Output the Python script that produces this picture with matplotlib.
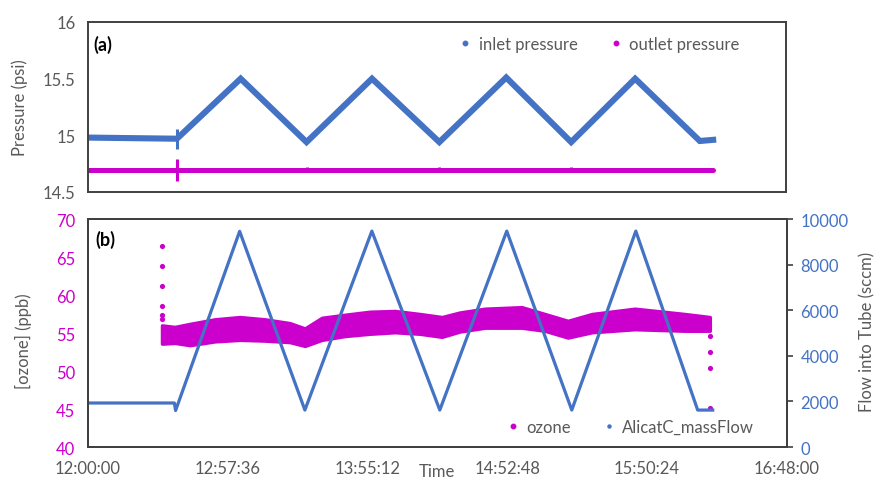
import matplotlib
matplotlib.use('Agg')
import matplotlib.pyplot as plt
from matplotlib.lines import Line2D
from matplotlib.ticker import FuncFormatter
import numpy as np

plt.rcParams['font.family'] = ['Lato', 'DejaVu Sans']

BLUE = '#4472C4'
MAGENTA = '#CC00CC'
GREY = '#595959'
EDGE = '#404040'
FS = 12

# times are minutes after 12:00:00
# (a) pressure
inlet_min = [0, 36.7, 63.0, 90.2, 117.2, 145.0, 172.6, 199.4, 225.8, 252.5, 258.0]
inlet_psi = [14.98, 14.97, 15.50, 14.94, 15.50, 14.94, 15.51, 14.94, 15.50, 14.95, 14.96]
outlet_min = [0, 258.0]
outlet_psi = [14.69, 14.69]
spike_min = [36.7]
inlet_spike_lo = [14.88]
inlet_spike_hi = [15.06]
outlet_spike_min = [36.7, 90.2, 145.0, 199.4]
outlet_spike_lo = [14.60, 14.68, 14.68, 14.68]
outlet_spike_hi = [14.79, 14.72, 14.72, 14.72]

# (b) flow
flow_min = [0, 35.6, 36.1, 62.5, 89.4, 117.0, 145.0, 172.6, 199.4, 225.8, 251.3, 257.5]
flow_sccm = [1930, 1930, 1600, 9460, 1620, 9470, 1620, 9470, 1620, 9470, 1620, 1620]

# (b) ozone band (lower / upper edge of the scatter)
ozone_min = [30.5, 35.8, 42.0, 52.3, 62.6, 72.9, 83.2, 89.4, 96.4, 105.9, 116.2, 126.5,
             136.8, 145.9, 153.3, 163.6, 178.8, 188.3, 197.8, 207.7, 225.4, 246.0, 256.3]
ozone_lo = [53.6, 53.7, 53.4, 53.9, 54.1, 54.0, 53.8, 53.3, 54.1, 54.6, 54.9, 55.1,
            54.9, 54.5, 55.2, 55.7, 55.7, 55.3, 54.4, 55.1, 55.5, 55.3, 55.3]
ozone_hi = [56.0, 55.8, 56.2, 56.8, 57.1, 56.8, 56.3, 55.6, 57.0, 57.4, 57.8, 57.9,
            57.5, 57.1, 57.7, 58.2, 58.4, 57.5, 56.6, 57.5, 58.2, 57.5, 57.1]
ozone_start_min = [30.5, 30.5, 30.5, 30.5, 30.5, 30.5]
ozone_start_ppb = [66.5, 63.8, 61.2, 58.5, 57.4, 56.9]
ozone_end_min = [256.5, 256.5, 256.5, 256.5]
ozone_end_ppb = [54.6, 52.5, 50.4, 45.1]

xticks_days = [0.5, 0.54, 0.58, 0.62, 0.66, 0.70]


def to_day(m):
    return 0.5 + np.asarray(m, dtype=float) / 1440.0


def hms(x, pos=None):
    s = int(round(x * 86400))
    return f'{s // 3600}:{(s % 3600) // 60:02d}:{s % 60:02d}'


fig = plt.figure(figsize=(8.8, 4.81), dpi=100)
ax1 = fig.add_axes([0.1, 0.5988, 0.793, 0.3534])
ax2 = fig.add_axes([0.1, 0.0686, 0.794, 0.474])
ax3 = ax2.twinx()

# ---- panel (a)
ax1.plot(to_day(outlet_min), outlet_psi, color=MAGENTA, lw=3.6, solid_capstyle='round')
ax1.vlines(to_day(outlet_spike_min), outlet_spike_lo, outlet_spike_hi, color=MAGENTA, lw=2.2)
ax1.plot(to_day(inlet_min), inlet_psi, color=BLUE, lw=4.4, solid_joinstyle='miter')
ax1.vlines(to_day(spike_min), inlet_spike_lo, inlet_spike_hi, color=BLUE, lw=2.2)
ax1.set_xlim(0.5, 0.7)
ax1.set_ylim(14.5, 16)
ax1.set_yticks([14.5, 15, 15.5, 16])
ax1.set_yticklabels(['14.5', '15', '15.5', '16'])
ax1.set_xticks(xticks_days)
ax1.tick_params(axis='x', length=0, labelbottom=False)
ax1.tick_params(axis='y', length=0, pad=9, labelsize=FS, labelcolor=GREY)
ax1.set_ylabel('Pressure (psi)', color=GREY, fontsize=FS)
ax1.yaxis.set_label_coords(-0.086, 0.5)
ax1.text(0.008, 0.87, '(a)', transform=ax1.transAxes, fontsize=13,
         fontweight='bold', va='center', ha='left')
leg_a = [Line2D([], [], ls='none', marker='o', ms=3.2, color=BLUE, label='inlet pressure'),
         Line2D([], [], ls='none', marker='o', ms=3.2, color=MAGENTA, label='outlet pressure')]
ax1.legend(handles=leg_a, ncol=2, frameon=False, loc='center right',
           bbox_to_anchor=(0.955, 0.87), fontsize=FS, labelcolor=GREY,
           handlelength=0.6, handletextpad=0.5, columnspacing=2.0)

# ---- panel (b)
ax2.fill_between(to_day(ozone_min), ozone_lo, ozone_hi, color=MAGENTA, lw=2.5,
                 edgecolor=MAGENTA)
ax2.scatter(to_day(ozone_start_min), ozone_start_ppb, s=14, color=MAGENTA, lw=0)
ax2.scatter(to_day(ozone_end_min), ozone_end_ppb, s=14, color=MAGENTA, lw=0)
ax2.set_xlim(0.5, 0.7)
ax2.set_ylim(40, 70)
ax2.set_yticks(range(40, 71, 5))
ax2.set_xticks(xticks_days)
ax2.xaxis.set_major_formatter(FuncFormatter(hms))
ax2.tick_params(axis='x', length=0, pad=9, labelsize=FS, labelcolor=GREY)
ax2.tick_params(axis='y', length=0, pad=9, labelsize=FS, labelcolor=MAGENTA)
ax2.set_ylabel('[ozone] (ppb)', color=GREY, fontsize=FS)
ax2.yaxis.set_label_coords(-0.08, 0.47)
ax2.text(0.01, 0.912, '(b)', transform=ax2.transAxes, fontsize=13,
         fontweight='bold', va='center', ha='left')

ax3.plot(to_day(flow_min), flow_sccm, color=BLUE, lw=2.3)
ax3.set_ylim(0, 10000)
ax3.set_yticks(range(0, 10001, 2000))
ax3.tick_params(axis='y', length=4, width=1.2, color=EDGE, pad=6,
                labelsize=FS, labelcolor=BLUE)
ax3.set_ylabel('Flow into Tube (sccm)', color=GREY, fontsize=FS)
ax3.yaxis.set_label_coords(1.104, 0.51)
leg_b = [Line2D([], [], ls='none', marker='o', ms=3.2, color=MAGENTA, label='ozone'),
         Line2D([], [], ls='none', marker='o', ms=2.2, color=BLUE, label='AlicatC_massFlow')]
ax3.legend(handles=leg_b, ncol=2, frameon=False, loc='center right',
           bbox_to_anchor=(0.975, 0.088), fontsize=FS, labelcolor=GREY,
           handlelength=0.6, handletextpad=0.5, columnspacing=2.0)

for ax in (ax1, ax2, ax3):
    for sp in ax.spines.values():
        sp.set_color(EDGE)
        sp.set_linewidth(1.4)

fig.text(0.497, 0.002, 'Time', color=GREY, fontsize=FS, ha='center', va='bottom')

fig.savefig('out.png', dpi=100)
